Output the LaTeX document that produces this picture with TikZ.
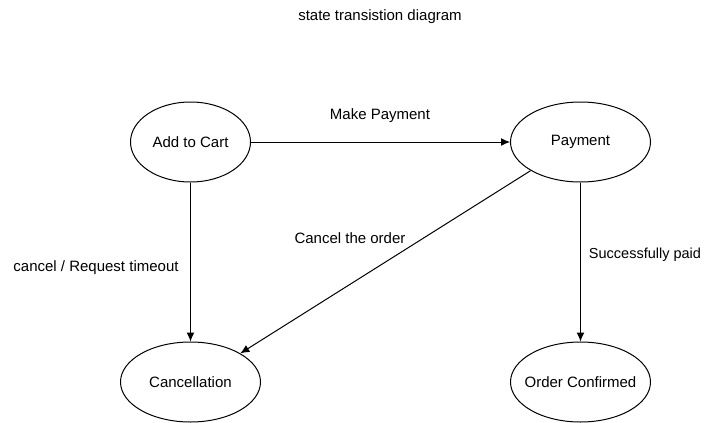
\documentclass[tikz,border=0pt]{standalone}
\usepackage{fontspec}
\setmainfont{Liberation Sans}
\usetikzlibrary{shapes.geometric,arrows.meta}
\begin{document}
\begin{tikzpicture}
    [
    x=1pt,y=-1pt,
    state/.style={ellipse,draw,line width=1pt,inner ysep=0pt,inner xsep=-15pt,minimum width=140pt,minimum height=80pt,font=\fontsize{15}{18}\selectfont},
    edgelabel/.style={font=\fontsize{15}{18}\selectfont},
    trans/.style={line width=1pt,-{Latex[length=9pt,width=8pt]}}
    ]
    \useasboundingbox (0,0) rectangle (710,423);
    \node (title) at (380,17) [edgelabel] {state transistion diagram};
    \node (cart) at (190.5,142) [state,minimum width=120pt] {Add to Cart};
    \node (pay) at (580.5,142) [state] {Payment};
    \node (cancel) at (190.5,382) [state] {Cancellation};
    \node (confirm) at (580.5,382) [state] {Order Confirmed};
    \draw [trans] (cart) to (pay);
    \draw [trans] (cart) to (cancel);
    \draw [trans] (pay) to (confirm);
    \draw [trans] (pay.south west) to (cancel.north east);
    \node (lpay) at (380,116) [edgelabel] {Make Payment};
    \node (ltimeout) at (96,268) [edgelabel] {cancel / Request timeout};
    \node (lorder) at (350,238) [edgelabel] {Cancel the order};
    \node (lpaid) at (645,255) [edgelabel,font=\fontsize{14.5}{17}\selectfont] {Successfully paid};
  \end{tikzpicture}
\end{document}
